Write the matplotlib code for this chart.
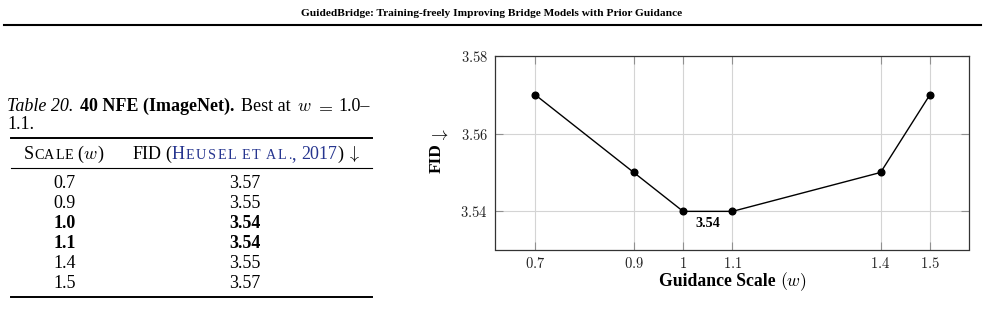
import numpy as np
import matplotlib
matplotlib.use('Agg')
import matplotlib.pyplot as plt
from matplotlib.lines import Line2D

plt.rcParams['font.family'] = ['Liberation Serif', 'DejaVu Serif']
plt.rcParams['mathtext.fontset'] = 'cm'

# data
scales = [0.7, 0.9, 1.0, 1.1, 1.4, 1.5]
fid = [3.57, 3.55, 3.54, 3.54, 3.55, 3.57]
scale_labels = ['0.7', '0.9', '1.0', '1.1', '1.4', '1.5']
xtick_labels = ['0.7', '0.9', '1', '1.1', '1.4', '1.5']
yticks = [3.54, 3.56, 3.58]
best = [False, False, True, True, False, False]
title = 'GuidedBridge: Training-freely Improving Bridge Models with Prior Guidance'

W, H = 985, 318
fig = plt.figure(figsize=(W / 100, H / 100), dpi=100)

def fx(p):
    return p / W

def fy(p):
    return 1 - p / H

def hline(y, x0, x1, lw):
    fig.add_artist(Line2D([fx(x0), fx(x1)], [fy(y), fy(y)], color='black', lw=lw))

def runs(x, y, parts, ha='left', width=None):
    # parts: (text, kwargs, gap after in px)
    r = fig.canvas.get_renderer()
    ts = [fig.text(0, fy(y), s, va='baseline', **kw) for s, kw, g in parts]
    ws = [t.get_window_extent(r).width if s.strip() else 0 for t, (s, kw, g) in zip(ts, parts)]
    gaps = [g for s, kw, g in parts]
    if width is not None:
        extra = (width - sum(ws) - sum(gaps)) / max(1, len(parts) - 1)
        gaps = [g + extra for g in gaps[:-1]] + [0]
    tot = sum(ws) + sum(gaps[:-1])
    cur = x - tot / 2 if ha == 'center' else x
    for t, w, g in zip(ts, ws, gaps):
        t.set_x(fx(cur))
        cur += w + g

def smallcaps(s, kw, track):
    # letter-spaced small capitals, a space becomes a wider gap
    out = []
    for ch in s:
        if ch == ' ':
            out[-1] = (out[-1][0], out[-1][1], out[-1][2] + 4)
        else:
            out.append((ch, kw, track))
    return out

# page header
fig.text(fx(492), fy(13), title, ha='center', va='center', fontsize=8.2, fontweight='bold')
hline(25, 4, 981, 1.5)

# table caption
fs = 13
rg = dict(fontsize=fs)
runs(7, 111, [('Table 20.', dict(fontsize=fs, style='italic'), 6),
              ('40 NFE (ImageNet).', dict(fontsize=fs, fontweight='bold'), 6),
              ('Best at', rg, 5),
              (r'$w$', rg, 3),
              (r'$=$', rg, 5),
              ('1.0\u2013', rg, 0)], width=363)
fig.text(fx(7), fy(129), '1.1.', va='baseline', fontsize=fs)

# table
blue = '#26358f'
sc = dict(fontsize=10.2)
scb = dict(fontsize=10.2, color=blue)
hline(137.5, 11, 372, 1.4)
hline(168, 11, 372, 0.8)
hline(297, 11, 372, 1.4)
runs(63.5, 159, [('S', rg, 0.5)] + smallcaps('CALE', sc, 0.5)[:-1] + [('E', sc, 4),
                 ('(', rg, 0), (r'$w$', rg, 0), (')', rg, 0)], ha='center')
runs(246, 159, [('FID', rg, 4), ('(', rg, 0), ('H', dict(fontsize=fs, color=blue), 1.5)]
     + smallcaps('EUSEL ET AL.', scb, 1.6)[:-1] + [('.', scb, 0),
     (',', dict(fontsize=fs, color=blue), 5),
     ('2017', dict(fontsize=fs, color=blue), 0),
     (')', rg, 3), (r'$\downarrow$', rg, 0)], ha='center')
for i, (s, v, b) in enumerate(zip(scale_labels, fid, best)):
    y = 183 + 20 * i
    w = 'bold' if b else 'normal'
    fig.text(fx(64.5), fy(y), s, ha='center', va='center', fontsize=fs, fontweight=w)
    fig.text(fx(245), fy(y), f'{v:.2f}', ha='center', va='center', fontsize=fs, fontweight=w)

# plot
ax = fig.add_axes([fx(495), fy(249.5), fx(969) - fx(495), fy(55.7) - fy(249.5)])
ax.plot(scales, fid, color='black', lw=1.0, marker='o', markersize=4.8, zorder=3)
ax.set_xlim(0.619, 1.579)
ax.set_ylim(3.5302, 3.58)
ax.set_xticks(scales)
ax.set_xticklabels([f'${s}$' for s in xtick_labels])
ax.set_yticks(yticks)
ax.set_yticklabels([f'${v:.2f}$' for v in yticks])
ax.grid(True, color='#d4d4d4', lw=0.8)
ax.set_axisbelow(True)
ax.tick_params(direction='in', top=True, right=True, length=5.5, width=0.8,
               color='#909090', labelsize=10.5, labelcolor='#222222')
ax.tick_params(axis='x', pad=4.5)
ax.tick_params(axis='y', pad=5)
for sp in ax.spines.values():
    sp.set_color('#333333')
    sp.set_linewidth(0.9)
ax.annotate('3.54', (1.05, 3.54), xytext=(0, -8.6), textcoords='offset points',
            ha='center', va='center', fontsize=10.3, fontweight='bold')

runs(733, 286, [('Guidance Scale', dict(fontsize=12.7, fontweight='bold'), 4),
                (r'$(w)$', dict(fontsize=12.7), 0)], ha='center')
fig.text(fx(437), fy(158), 'FID', rotation=90, ha='center', va='center',
         fontsize=12.5, fontweight='bold')
fig.text(fx(438), fy(136), r'$\rightarrow$', ha='center', va='center', fontsize=12.5)

fig.savefig('out.png', dpi=100)
